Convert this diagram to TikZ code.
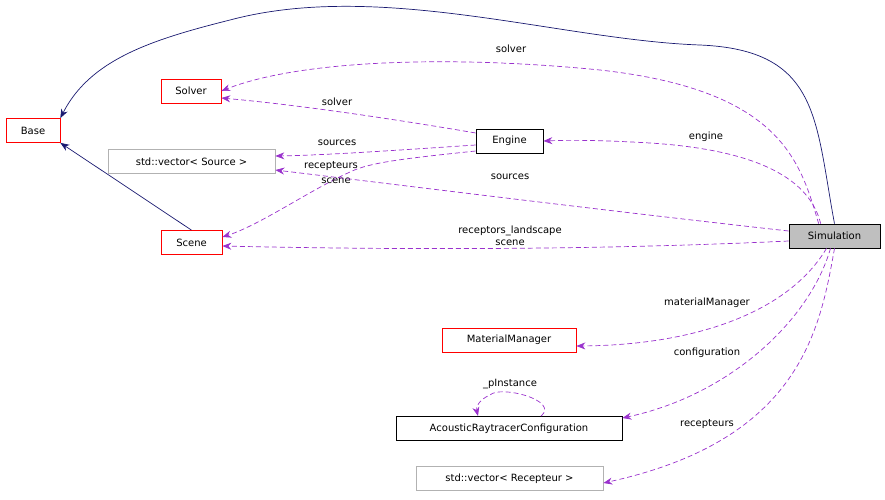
\documentclass[tikz,border=0pt]{standalone}
\usepackage{fontspec}
\setmainfont{DejaVu Sans}
\usetikzlibrary{arrows.meta}
\definecolor{dpurple}{HTML}{9A32CD}
\definecolor{dnavy}{HTML}{191970}
\begin{document}
\begin{tikzpicture}[x=1pt,y=-1pt,
  every node/.style={font=\fontsize{10}{11.5}\selectfont},
  box/.style={draw,line width=0.7pt,inner sep=0pt,minimum height=24pt,fill=white},
  rbox/.style={box,draw=red},
  gbox/.style={box,draw=black!30},
  dep/.style={draw=dpurple,line width=0.7pt,dash pattern=on 5pt off 3pt,-{Stealth[length=9pt,width=7pt,fill=dpurple]}},
  inh/.style={draw=dnavy,line width=0.7pt,-{Stealth[length=9pt,width=7pt,fill=dnavy]}},
  lbl/.style={inner sep=0pt,align=center}]
\useasboundingbox (0,0) rectangle (885,499);
\node[rbox,minimum width=54pt] (base) at (33,130.5) {Base};
\node[rbox,minimum width=60pt] (solver) at (191,91) {Solver};
\node[gbox,minimum width=167pt] (vsrc) at (191.5,161.5) {std::vector< Source >};
\node[rbox,minimum width=61pt] (scene) at (191.5,242.5) {Scene};
\node[box,minimum width=67pt] (engine) at (509.5,141) {Engine};
\node[box,minimum width=91pt,fill=black!25] (sim) at (834.5,236) {Simulation};
\node[rbox,minimum width=134pt] (mm) at (509,340) {MaterialManager};
\node[box,minimum width=226pt] (arc) at (509,428.5) {AcousticRaytracerConfiguration};
\node[gbox,minimum width=187pt] (vrec) at (509.5,478.5) {std::vector< Recepteur >};
% inheritance
\draw[inh] (sim.north) .. controls (815,120) and (820,50) .. (700,45) .. controls (560,40) and (380,-20) .. (230,20) .. controls (150,40) and (90,60) .. (base.north east);
\draw[inh] (scene.north) -- (base.south east);
% usage
\draw[dep] (sim.north west) ++(30,0) .. controls (800,160) and (780,90) .. (600,70) .. controls (450,55) and (300,60) .. (solver.east);
\node[lbl] (l1) at (511,49) {solver};
\draw[dep] (engine.west) ++(0,-8) .. controls (400,120) and (300,105) .. (solver.east |- 0,98);
\node[lbl] (l2) at (337,102) {solver};
\draw[dep] (engine.west) ++(0,4) .. controls (400,150) and (330,155) .. (vsrc.east |- 0,156);
\node[lbl] (l3) at (337,143) {sources};
\draw[dep] (engine.west) ++(0,10) .. controls (410,158) and (370,162) .. (350,172) .. controls (310,190) and (260,225) .. (scene.east |- 0,237);
\node[lbl] (l4) at (331,166) {recepteurs};
\node[lbl] (l5) at (336,181) {scene};
\draw[dep] (sim.north west) ++(32,0) .. controls (810,180) and (760,150) .. (650,143) .. controls (600,140) and (570,140) .. (engine.east);
\node[lbl] (l6) at (706,137) {engine};
\draw[dep] (sim.west) ++(0,-5) .. controls (600,210) and (400,185) .. (vsrc.east |- 0,170);
\node[lbl] (l7) at (510,177) {sources};
\draw[dep] (sim.west) ++(0,5) .. controls (600,250) and (400,250) .. (scene.east |- 0,246);
\node[lbl] (l8) at (510,236) {receptors\_landscape\\scene};
\draw[dep] (sim.south) ++(-8,0) .. controls (790,310) and (700,345) .. (mm.east |- 0,346);
\node[lbl] (l9) at (707,303) {materialManager};
\draw[dep] (sim.south) ++(-4,0) .. controls (810,320) and (730,395) .. (arc.east |- 0,418);
\node[lbl] (l10) at (707,353) {configuration};
\draw[dep] (sim.south) .. controls (820,330) and (800,440) .. (vrec.east |- 0,483);
\node[lbl] (l11) at (707,424) {recepteurs};
\draw[dep] (arc.north) ++(32,0) .. controls (560,400) and (500,385) .. (490,395) .. controls (478,400) and (476,408) .. (478,416);
\node[lbl] (l12) at (510,384) {\_pInstance};
\end{tikzpicture}
\end{document}
